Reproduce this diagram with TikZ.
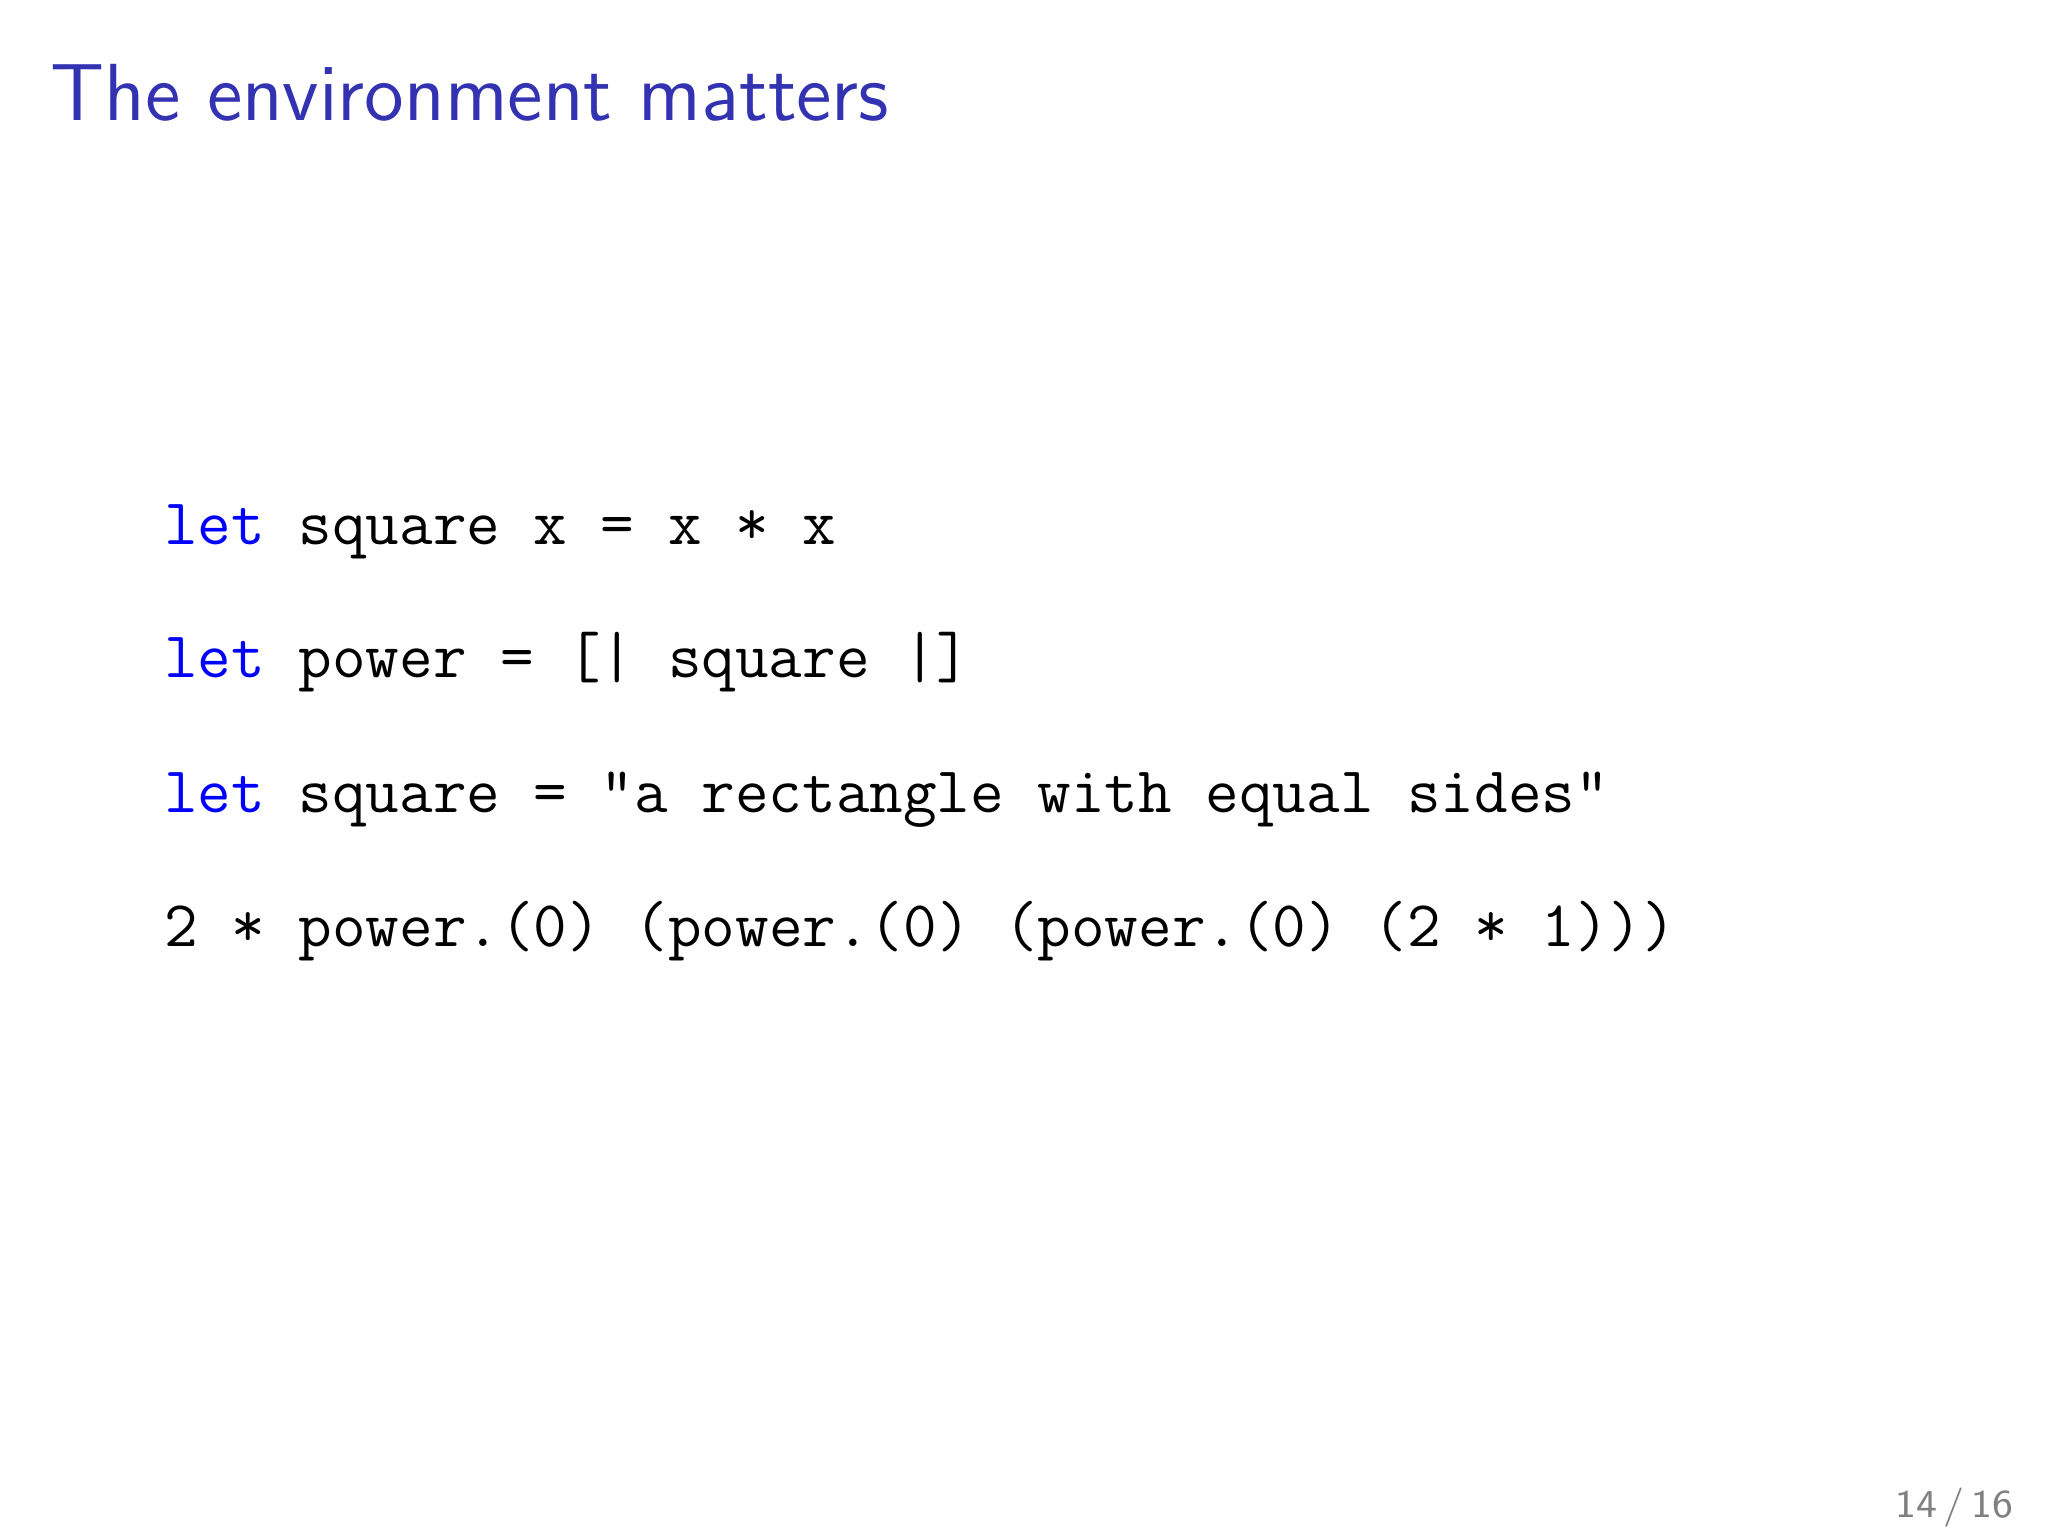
\documentclass[tikz,border=0pt]{standalone}
\usepackage{xcolor}
\definecolor{titleblue}{RGB}{51,51,178}
\definecolor{kw}{RGB}{0,0,255}
\tikzset{code/.style={anchor=base west,inner sep=0pt,font=\fontsize{11.6}{13}\selectfont\ttfamily}}
\begin{document}
\begin{tikzpicture}
\useasboundingbox (0,0) rectangle (12.8,9.6);
\node[anchor=base west,inner sep=0pt,text=titleblue,font=\fontsize{14.4}{17}\selectfont\sffamily] (title) at (0.31,8.849) {The environment matters};
\node[code] (l1) at (1.02,6.196) {\textcolor{kw}{let} square x = x * x};
\node[code] (l2) at (1.02,5.363) {\textcolor{kw}{let} power = [| square |]};
\node[code] (l3) at (1.02,4.523) {\textcolor{kw}{let} square = "a rectangle with equal sides"};
\node[code] (l4) at (1.02,3.682) {2 * power.(0) (power.(0) (power.(0) (2 * 1)))};
\node[anchor=base east,inner sep=0pt,text=gray,font=\fontsize{7}{8}\selectfont\sffamily] (pg) at (12.588,0.114) {14\,/\,16};
\end{tikzpicture}
\end{document}
